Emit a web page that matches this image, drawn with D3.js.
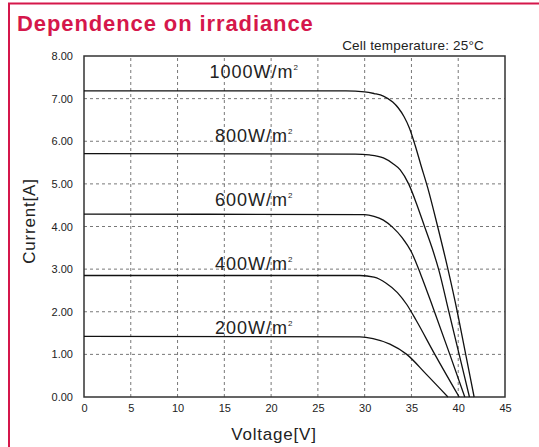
<!DOCTYPE html>
<html lang="en">
<head>
<meta charset="utf-8">
<title>Dependence on irradiance</title>
<script src="https://cdn.jsdelivr.net/npm/d3@7"></script>
<style>
  body { margin: 0; background: #fff; }
  text { font-family: "Liberation Sans", Arial, sans-serif; }
</style>
</head>
<body>
<script>
// irradiance levels, W/m2
var levels = ["1000", "800", "600", "400", "200"];

// I-V curves: voltage [V], current [A]
var v1000 = [0, 28, 30, 31, 32, 33, 33.6, 34.2, 34.8, 35.4, 36, 36.75, 37.8, 38.9, 39.9, 40.8, 41.7];
var i1000 = [7.18, 7.18, 7.16, 7.12, 7.06, 6.92, 6.78, 6.58, 6.3, 5.9, 5.45, 4.9, 4.0, 3.0, 2.0, 1.0, 0];
var v800 = [0, 29, 30.5, 32, 33, 33.8, 34.7, 35.6, 36.4, 37.2, 37.9, 39.0, 40.1, 41.2];
var i800 = [5.71, 5.70, 5.68, 5.61, 5.48, 5.33, 5.0, 4.5, 4.0, 3.5, 3.0, 2.0, 1.0, 0];
var v600 = [0, 30, 31, 32, 33, 34, 35, 36, 37.3, 39.1, 40.7];
var i600 = [4.29, 4.28, 4.24, 4.15, 3.98, 3.74, 3.4, 2.87, 2.1, 1.0, 0];
var v400 = [0, 29.5, 31, 32.3, 33.5, 34.5, 35.5, 37.5, 40.1];
var i400 = [2.85, 2.85, 2.81, 2.67, 2.45, 2.17, 1.8, 1.0, 0];
var v200 = [0, 29.5, 30.9, 32.7, 34.5, 36.6, 38.9];
var i200 = [1.42, 1.41, 1.37, 1.24, 1.0, 0.53, 0];

// current level where each curve's label sits
var labelCurrent = [7.5, 6.0, 4.5, 3.0, 1.5];

var xTicks = [0, 5, 10, 15, 20, 25, 30, 35, 40, 45];
var yTicks = [0, 1, 2, 3, 4, 5, 6, 7, 8];

var w = 539, h = 447;
var margin = {top: 56, right: 34, bottom: 50, left: 84};
var red = "#d5174b";

var series = [
  {v: v1000, i: i1000}, {v: v800, i: i800}, {v: v600, i: i600},
  {v: v400, i: i400}, {v: v200, i: i200}
];

var svg = d3.select("body").append("svg")
    .attr("width", w)
    .attr("height", h);

// red frame round the panel
svg.append("path")
   .attr("d", "M9,447 L9,3.5 L539,3.5")
   .attr("fill", "none")
   .attr("stroke", red)
   .attr("stroke-width", 2);

svg.append("text")
   .attr("x", 17)
   .attr("y", 31)
   .attr("fill", red)
   .style("font-size", "22px")
   .style("font-weight", "bold")
   .style("letter-spacing", "0.9px")
   .text("Dependence on irradiance");

svg.append("text")
   .attr("x", 484)
   .attr("y", 50)
   .attr("text-anchor", "end")
   .attr("fill", "#222")
   .style("font-size", "13.5px")
   .style("letter-spacing", "0.2px")
   .text("Cell temperature: 25\u00B0C");

var xScale = d3.scaleLinear().domain([0, 45]).range([margin.left, w - margin.right]);
var yScale = d3.scaleLinear().domain([0, 8]).range([h - margin.bottom, margin.top]);

// grid
svg.append("g").selectAll("line")
   .data(xTicks.slice(1, -1))
   .enter().append("line")
   .attr("x1", d => xScale(d)).attr("x2", d => xScale(d))
   .attr("y1", yScale(0)).attr("y2", yScale(8))
   .attr("stroke", "#555")
   .attr("stroke-width", 0.8)
   .attr("stroke-dasharray", "3,3");

svg.append("g").selectAll("line")
   .data(yTicks.slice(1, -1))
   .enter().append("line")
   .attr("x1", xScale(0)).attr("x2", xScale(45))
   .attr("y1", d => yScale(d)).attr("y2", d => yScale(d))
   .attr("stroke", "#555")
   .attr("stroke-width", 0.8)
   .attr("stroke-dasharray", "3,3");

// axes (labels only, the frame is drawn below)
var xAxis = d3.axisBottom(xScale).tickValues(xTicks).tickSize(0).tickPadding(7);
var yAxis = d3.axisLeft(yScale).tickValues(yTicks).tickSize(0).tickPadding(11)
              .tickFormat(d3.format(".2f"));

var gx = svg.append("g")
   .attr("transform", "translate(0," + yScale(0) + ")")
   .call(xAxis);
var gy = svg.append("g")
   .attr("transform", "translate(" + xScale(0) + ",0)")
   .call(yAxis);
[gx, gy].forEach(function(g) {
  g.select(".domain").remove();
  g.selectAll("text")
   .attr("fill", "#222")
   .style("font-family", "'Liberation Sans', Arial, sans-serif")
   .style("font-size", "11px");
});

svg.append("rect")
   .attr("x", xScale(0))
   .attr("y", yScale(8))
   .attr("width", xScale(45) - xScale(0))
   .attr("height", yScale(0) - yScale(8))
   .attr("fill", "none")
   .attr("stroke", "#333")
   .attr("stroke-width", 1.5);

// curves
var line = d3.line()
    .x(d => xScale(d[0]))
    .y(d => yScale(d[1]))
    .curve(d3.curveMonotoneX);

svg.append("g").selectAll("path")
   .data(series)
   .enter().append("path")
   .attr("d", s => line(s.v.map((v, k) => [v, s.i[k]])))
   .attr("fill", "none")
   .attr("stroke", "#111")
   .attr("stroke-width", 1.3);

// curve labels
var lbl = svg.append("g").selectAll("text")
   .data(levels)
   .enter().append("text")
   .attr("x", xScale(18.2))
   .attr("y", (d, k) => yScale(labelCurrent[k]) + 1)
   .attr("text-anchor", "middle")
   .attr("fill", "#222")
   .style("font-size", "18px")
   .style("letter-spacing", "1px");
lbl.append("tspan").text(d => d + "W/m");
lbl.append("tspan")
   .attr("dy", -8)
   .style("font-size", "8px")
   .text("2");

// axis titles
svg.append("text")
   .attr("x", 274)
   .attr("y", 440)
   .attr("text-anchor", "middle")
   .attr("fill", "#222")
   .style("font-size", "17px")
   .style("letter-spacing", "0.8px")
   .text("Voltage[V]");

svg.append("text")
   .attr("transform", "translate(35,221) rotate(-90)")
   .attr("text-anchor", "middle")
   .attr("fill", "#222")
   .style("font-size", "17px")
   .style("letter-spacing", "0.8px")
   .text("Current[A]");
</script>
</body>
</html>
